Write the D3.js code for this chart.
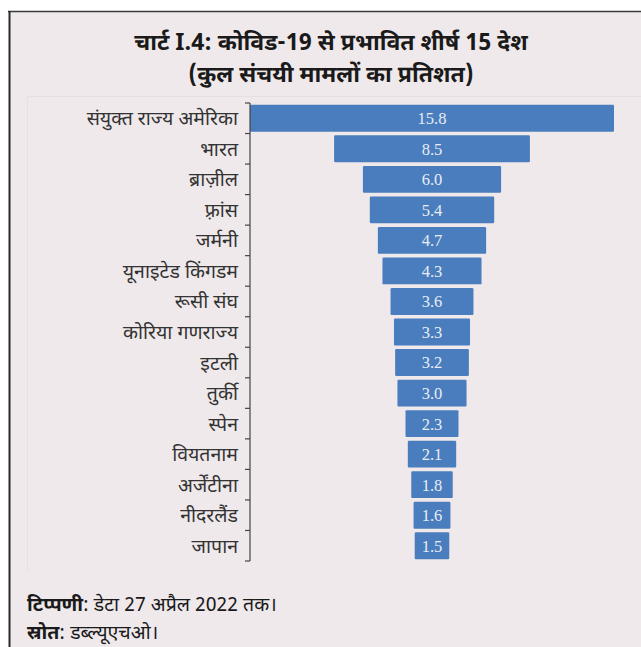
<!DOCTYPE html>
<html>
<head>
<meta charset="utf-8">
<script src="https://cdn.jsdelivr.net/npm/d3@7"></script>
<style>
  html, body { margin: 0; padding: 0; background: #ffffff; }
  svg { display: block; }
</style>
</head>
<body>
<script>
// Top 15 countries by share of cumulative COVID-19 cases (per cent)
const countries = [
  "संयुक्त राज्य अमेरिका", "भारत", "ब्राज़ील", "फ़्रांस", "जर्मनी",
  "यूनाइटेड किंगडम", "रूसी संघ", "कोरिया गणराज्य", "इटली", "तुर्की",
  "स्पेन", "वियतनाम", "अर्जेंटीना", "नीदरलैंड", "जापान"
];
const shares = [15.8, 8.5, 6.0, 5.4, 4.7, 4.3, 3.6, 3.3, 3.2, 3.0, 2.3, 2.1, 1.8, 1.6, 1.5];

const titleLines = [
  "चार्ट I.4: कोविड-19 से प्रभावित शीर्ष 15 देश",
  "(कुल संचयी मामलों का प्रतिशत)"
];
const noteLabel = "टिप्पणी";
const noteText = ": डेटा 27 अप्रैल 2022 तक।";
const sourceLabel = "स्रोत";
const sourceText = ": डब्ल्यूएचओ।";

const W = 641, H = 647;
const devFont = "'Noto Sans Devanagari', 'Noto Sans', 'Lohit Devanagari', sans-serif";
const titleFont = "'Liberation Sans Narrow', 'Noto Sans Devanagari', 'Noto Sans', sans-serif";

const svg = d3.select("body").append("svg")
  .attr("width", W).attr("height", H);

// panel background and frame
svg.append("rect").attr("x", 9).attr("y", 11).attr("width", W - 9).attr("height", H - 11)
  .attr("fill", "#efe9eb");
svg.append("line").attr("x1", 8).attr("x2", W).attr("y1", 11.5).attr("y2", 11.5)
  .attr("stroke", "#3a3a3a").attr("stroke-width", 1.5);
svg.append("line").attr("x1", 9.5).attr("x2", 9.5).attr("y1", 11).attr("y2", H)
  .attr("stroke", "#2a2a2a").attr("stroke-width", 2);

// faint plot-area outline
svg.append("path")
  .attr("d", `M27.5,572 V96.5 H${W}`)
  .attr("fill", "none").attr("stroke", "#e6e0e3").attr("stroke-width", 1);

// title
svg.append("g").selectAll("text").data(titleLines).join("text")
  .attr("x", 331).attr("y", (d, i) => 50 + i * 32)
  .attr("text-anchor", "middle")
  .attr("font-family", titleFont).attr("font-weight", "bold")
  .attr("font-size", 23).attr("fill", "#1a1a1a")
  .text(d => d);

// scales
const y = d3.scaleBand().domain(countries).range([103, 561])
  .paddingInner(0.12).paddingOuter(0.06);
const x = d3.scaleLinear().domain([0, d3.max(shares)]).range([0, 364]);
const axisX = 250;
const cx = axisX + x(d3.max(shares)) / 2;

const data = countries.map((c, i) => ({ c, v: shares[i] }));

// funnel bars, centred on a common axis
svg.append("g").selectAll("rect").data(data).join("rect")
  .attr("x", d => cx - x(d.v) / 2)
  .attr("y", d => y(d.c))
  .attr("width", d => x(d.v))
  .attr("height", y.bandwidth())
  .attr("rx", 1.2)
  .attr("fill", "#4a7dbd");

// value labels
svg.append("g").selectAll("text").data(data).join("text")
  .attr("x", cx)
  .attr("y", d => y(d.c) + y.bandwidth() / 2)
  .attr("dy", "0.36em")
  .attr("text-anchor", "middle")
  .attr("font-family", "'Liberation Serif', 'DejaVu Serif', serif")
  .attr("font-size", 16.5).attr("fill", "#e8edf5")
  .text(d => d.v.toFixed(1));

// category axis: line with ticks at band boundaries
const step = y.step();
const tickYs = countries.map(c => y(c) - step * 0.06).concat([561]);
const ax = svg.append("g").attr("stroke", "#444").attr("stroke-width", 1.2);
ax.append("line").attr("x1", axisX).attr("x2", axisX).attr("y1", 103).attr("y2", 561);
ax.selectAll("line.tick").data(tickYs).join("line").attr("class", "tick")
  .attr("x1", axisX - 5).attr("x2", axisX).attr("y1", d => d).attr("y2", d => d);

svg.append("g").selectAll("text").data(countries).join("text")
  .attr("x", axisX - 12)
  .attr("y", d => y(d) + y.bandwidth() / 2)
  .attr("dy", "0.36em")
  .attr("text-anchor", "end")
  .attr("font-family", devFont)
  .attr("font-size", 19.5).attr("fill", "#333")
  .text(d => d);

// notes
const notes = [[noteLabel, noteText, 611], [sourceLabel, sourceText, 639]];
notes.forEach(([lab, txt, yy]) => {
  const t = svg.append("text").attr("x", 27).attr("y", yy)
    .attr("font-family", titleFont).attr("font-size", 19.5).attr("fill", "#1a1a1a");
  t.append("tspan").attr("font-weight", "bold").text(lab);
  t.append("tspan").text(txt);
});
</script>
</body>
</html>
